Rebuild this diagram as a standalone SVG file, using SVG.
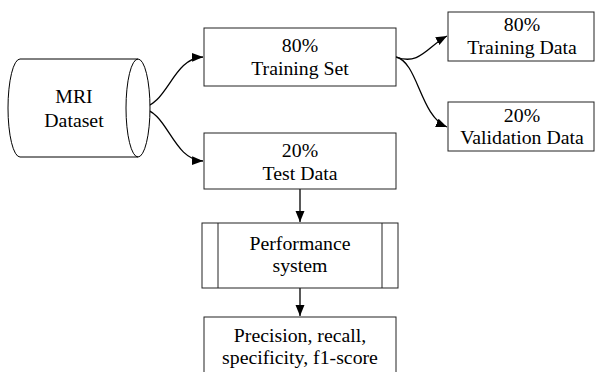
<svg xmlns="http://www.w3.org/2000/svg" width="595" height="372" viewBox="0 0 595 372">
<style>
.box{fill:#fff;stroke:#222;stroke-width:1}
.t{font-family:"Liberation Serif","Times New Roman",serif;font-size:19.8px;fill:#000;text-anchor:middle}
.c{fill:none;stroke:#000;stroke-width:1.3}
</style>
<defs>
<marker id="ah" markerUnits="userSpaceOnUse" markerWidth="12" markerHeight="10" refX="11" refY="4.5" orient="auto">
<path d="M0,0 L11,4.5 L0,9 z" fill="#000"/>
</marker>
</defs>
<rect width="595" height="372" fill="#fff"/>
<g id="connectors">
<path class="c" d="M140,108 C168,106 172,58 203,57" marker-end="url(#ah)"/>
<path class="c" d="M140,108 C168,110 172,160 203,161" marker-end="url(#ah)"/>
<path class="c" d="M396,57 C420,66 428,46 447,36" marker-end="url(#ah)"/>
<path class="c" d="M396,57 C418,62 420,116 447,127" marker-end="url(#ah)"/>
<path class="c" d="M300,189 L300,222" marker-end="url(#ah)"/>
<path class="c" d="M300,288 L300,316" marker-end="url(#ah)"/>
</g>
<g id="mri">
<path d="M20,59 L138,59 A12,49 0 0 1 138,157 L20,157 A12,49 0 0 1 20,59 z" fill="#fff" stroke="#000" stroke-width="1"/>
<path d="M138,59 A12,49 0 0 0 138,157" fill="none" stroke="#000" stroke-width="1"/>
<text class="t" x="74" y="103">MRI</text>
<text class="t" x="74" y="127">Dataset</text>
</g>
<g id="training-set">
<rect class="box" x="204" y="28" width="192" height="58"/>
<text class="t" x="300" y="52">80%</text>
<text class="t" x="300" y="75">Training Set</text>
</g>
<g id="test-data">
<rect class="box" x="204" y="133" width="192" height="56"/>
<text class="t" x="300" y="157">20%</text>
<text class="t" x="300" y="180">Test Data</text>
</g>
<g id="training-data">
<rect class="box" x="448" y="12" width="146" height="49"/>
<text class="t" x="522" y="31">80%</text>
<text class="t" x="522" y="54">Training Data</text>
</g>
<g id="validation-data">
<rect class="box" x="448" y="102" width="146" height="49"/>
<text class="t" x="522" y="122">20%</text>
<text class="t" x="522" y="144">Validation Data</text>
</g>
<g id="performance">
<rect class="box" x="202" y="223" width="196" height="65"/>
<line x1="218" y1="223" x2="218" y2="288" stroke="#222"/>
<line x1="382" y1="223" x2="382" y2="288" stroke="#222"/>
<text class="t" x="300" y="250">Performance</text>
<text class="t" x="300" y="272">system</text>
</g>
<g id="metrics">
<rect class="box" x="204" y="317" width="192" height="70"/>
<text class="t" x="300" y="342">Precision, recall,</text>
<text class="t" x="300" y="364">specificity, f1-score</text>
</g>
</svg>
